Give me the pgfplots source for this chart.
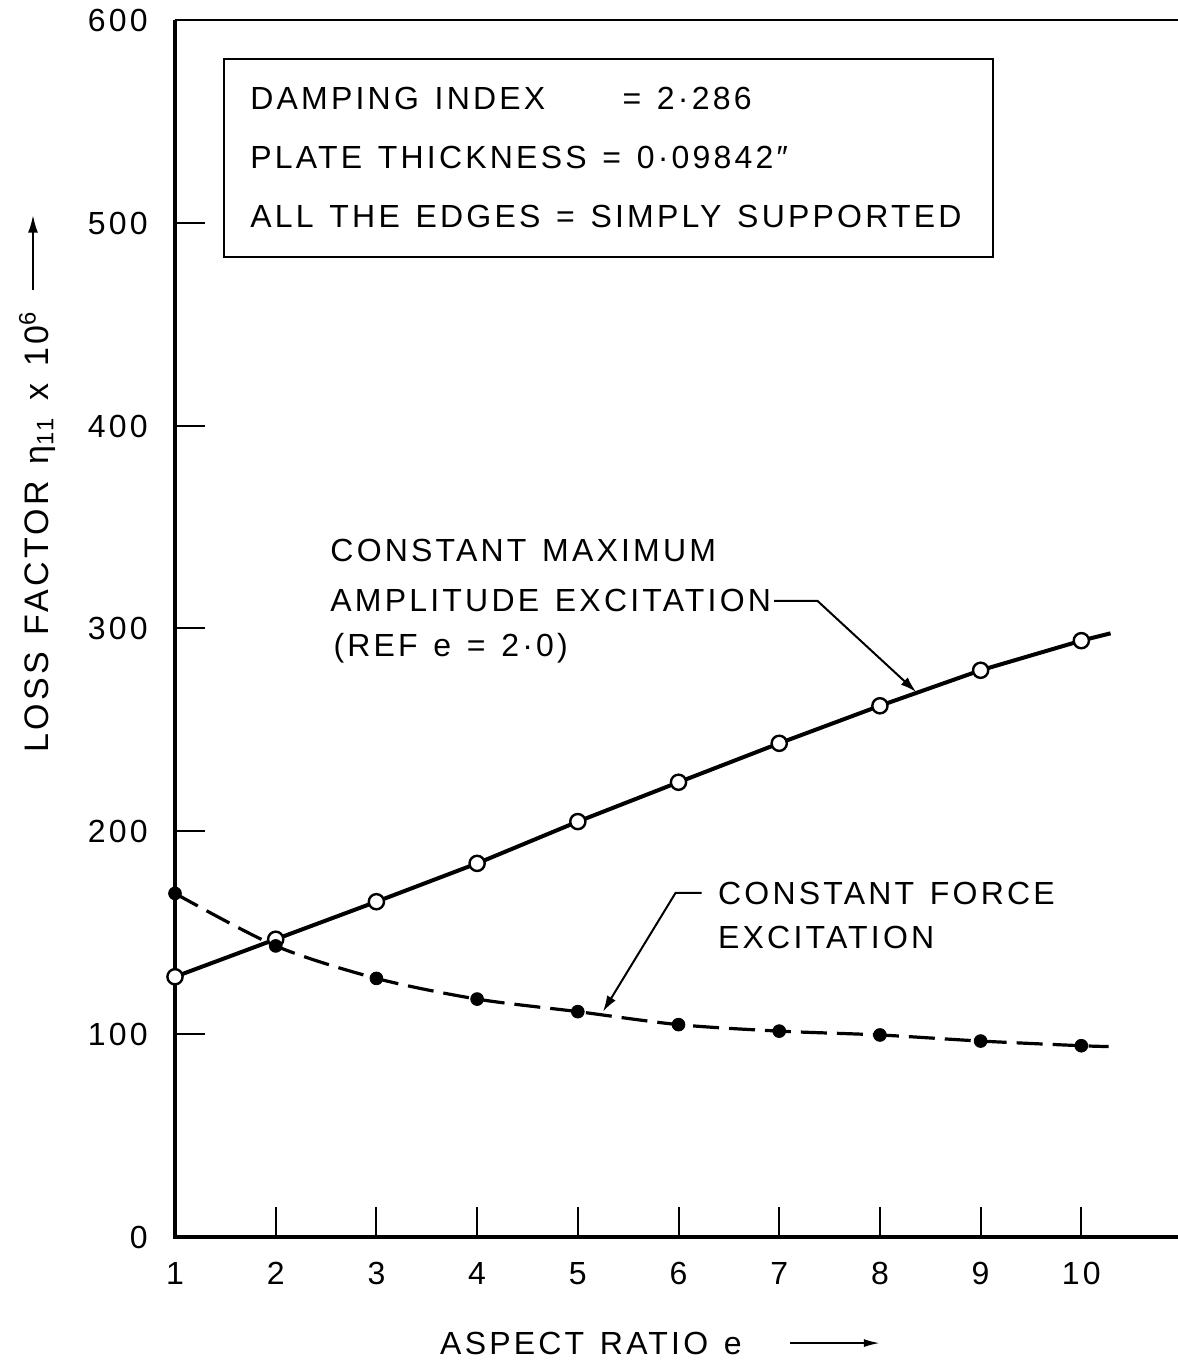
\documentclass[border=0pt]{standalone}
\usepackage{pgfplots}
\pgfplotsset{compat=1.18}
\usepackage{fontspec}
\setmainfont{Liberation Sans}[LetterSpace=10, WordSpace=1.3]
\usetikzlibrary{arrows.meta,calc}
\newcommand\lf{\fontsize{16pt}{19pt}\selectfont}

\begin{document}
\begin{tikzpicture}[lab/.style={font=\lf, inner sep=0pt, text height=11.5pt, text depth=0pt}]
\begin{axis}[
  scale only axis, width=501.5pt, height=608.5pt,
  xmin=1, xmax=10.96, ymin=0, ymax=600,
  axis line style={draw=none},
  tick align=inside, tick pos=left,
  xtick={1,...,10}, ytick={0,100,...,600},
  major tick length=15pt,
  tick style={line width=1pt, black},
  /pgf/number format/assume math mode=true,
  ticklabel style={font=\lf, inner sep=0pt, text height=11.5pt, text depth=0pt},
  xticklabel style={yshift=-12pt},
  yticklabel style={xshift=-13.5pt},
  clip=false,
]
% axis frame: left, bottom, top
\draw[line width=1.6pt] (rel axis cs:0,1) -- (rel axis cs:0,0) -- (rel axis cs:1,0);
\draw[line width=1.2pt] (rel axis cs:0,1) -- (rel axis cs:1,1);

% constant force excitation (dashed)
\addplot[line width=1.6pt, dash pattern=on 13pt off 5pt, smooth, tension=0.5] coordinates {
 (1,169.4)(2,143.5)(3,127.5)(4,117.3)(5,111.1)(6,104.7)(7,101.5)(8,99.6)(9,96.6)(10,94.3)(10.27,93.9)};
% constant maximum amplitude excitation (solid)
\addplot[line width=2pt] coordinates {
 (1,128.3)(2,146.8)(3,165.3)(4,184.2)(5,204.8)(6,224.2)(7,243.4)(8,261.9)(9,279.4)(10,294.0)(10.29,297.6)};
\addplot[only marks, mark=*, mark size=3.8pt, mark options={fill=white, draw=black, line width=1.2pt}] coordinates {
 (1,128.3)(2,146.8)(3,165.3)(4,184.2)(5,204.8)(6,224.2)(7,243.4)(8,261.9)(9,279.4)(10,294.0)};
\addplot[only marks, mark=*, mark size=3.2pt, black] coordinates {
 (1,169.4)(2,143.5)(3,127.5)(4,117.3)(5,111.1)(6,104.7)(7,101.5)(8,99.6)(9,96.6)(10,94.3)};

% info box
\draw[line width=1.1pt] (axis cs:1.487,580.8) rectangle (axis cs:9.123,483.2);
\node[lab, anchor=west] at (axis cs:1.745,561.5) {DAMPING INDEX};
\node[lab, anchor=west] at (axis cs:5.44,561.5) {= 2·286};
\node[lab, anchor=west] at (axis cs:1.745,532.5) {PLATE THICKNESS = 0·09842″};
\node[lab, anchor=west] at (axis cs:1.745,503.4) {ALL THE EDGES = SIMPLY SUPPORTED};

% annotation 1
\node[lab, anchor=west] at (axis cs:2.54,338.7) {CONSTANT MAXIMUM};
\node[lab, anchor=west] at (axis cs:2.54,314.1) {AMPLITUDE EXCITATION};
\node[lab, anchor=west] at (axis cs:2.57,291.9) {(REF e = 2·0)};
\draw[line width=1pt, -{Latex[length=8pt,width=5pt]}] (axis cs:6.95,313.6) -- (axis cs:7.38,313.6) -- (axis cs:8.36,268.7);

% annotation 2
\node[lab, anchor=west] at (axis cs:6.39,169.6) {CONSTANT FORCE};
\node[lab, anchor=west] at (axis cs:6.39,148.1) {EXCITATION};
\draw[line width=1pt, -{Latex[length=8pt,width=5pt]}] (axis cs:6.23,169.6) -- (axis cs:5.97,169.6) -- (axis cs:5.25,111.1);

% x label
\node[lab, anchor=west] at (axis cs:3.63,-52.3) {ASPECT RATIO e};
\draw[line width=1pt, -{Latex[length=8pt,width=4pt]}] (axis cs:7.11,-52.3) -- (axis cs:8.0,-52.3);

% y label
\node[font=\fontsize{17pt}{20pt}\selectfont, inner sep=0pt, rotate=90, anchor=base] at (axis cs:-0.26,347.6) {LOSS FACTOR η\textsubscript{11} x 10\textsuperscript{6}};
\draw[line width=1.2pt, -{Latex[length=9pt,width=5pt]}] (axis cs:-0.41,466.9) -- (axis cs:-0.41,504);

\coordinate (O) at (rel axis cs:0,0);
\coordinate (T) at (rel axis cs:1,1);
\end{axis}
\pgfresetboundingbox
\path[use as bounding box] ($(O)+(-87.5pt,-63pt)$) rectangle ($(T)+(0pt,10pt)$);
\end{tikzpicture}
\end{document}
